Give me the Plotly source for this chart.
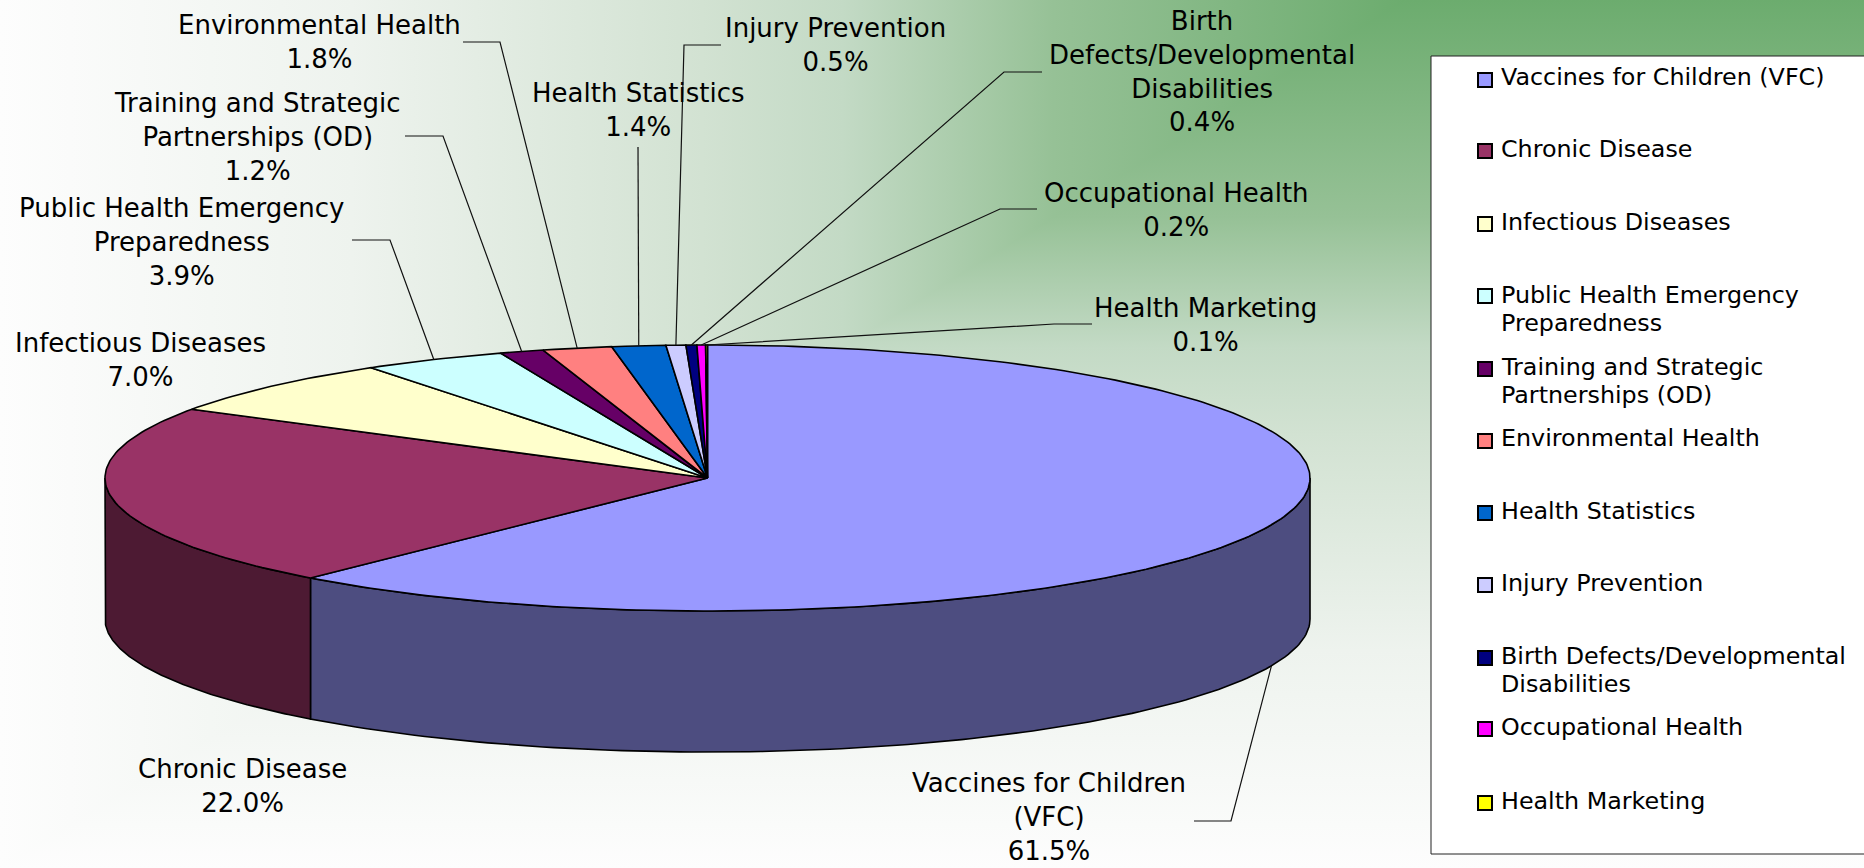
"""
CDC budget shares drawn as a tilted (3-D look) pie with a boxed legend
"""
import base64

import numpy as np
import plotly.graph_objects as go

WIDTH, HEIGHT = 1864, 868

# slice data, clockwise from 12 o'clock
categories = ['Vaccines for Children (VFC)', 'Chronic Disease', 'Infectious Diseases',
              'Public Health Emergency Preparedness', 'Training and Strategic Partnerships (OD)',
              'Environmental Health', 'Health Statistics', 'Injury Prevention',
              'Birth Defects/Developmental Disabilities', 'Occupational Health', 'Health Marketing']
# sizes as measured from the slice edges (the printed labels are rounded)
slice_values = [61.45, 22.2, 6.92, 3.85, 1.18, 1.86, 1.44, 0.53, 0.29, 0.23, 0.05]
percent_labels = ['61.5%', '22.0%', '7.0%', '3.9%', '1.2%', '1.8%', '1.4%', '0.5%', '0.4%', '0.2%', '0.1%']
top_colors = ['#9999FF', '#993366', '#FFFFCC', '#CCFFFF', '#660066', '#FF8080',
              '#0066CC', '#CCCCFF', '#000080', '#FF00FF', '#FFFF00']
side_colors = {0: '#4D4D80', 1: '#4D1A33'}

# wrapped text of the data labels
label_lines = [['Vaccines for Children', '(VFC)'], ['Chronic Disease'], ['Infectious Diseases'],
               ['Public Health Emergency', 'Preparedness'], ['Training and Strategic', 'Partnerships (OD)'],
               ['Environmental Health'], ['Health Statistics'], ['Injury Prevention'],
               ['Birth', 'Defects/Developmental', 'Disabilities'], ['Occupational Health'], ['Health Marketing']]
label_x = [1049, 242, 140, 182, 257, 319, 638, 835, 1202, 1176, 1205]
label_y = [817, 786, 360, 242, 137, 42, 110, 45, 71, 210, 325]

# leader lines: start at the label, go through the elbows, end on the slice rim
leader_paths = {
    0: [(1194, 821), (1231, 821)],
    3: [(352, 240), (390, 240)],
    4: [(405, 136), (443, 136)],
    5: [(463, 42), (500, 42)],
    6: [(638, 147)],
    7: [(721, 45), (684, 45)],
    8: [(1042, 72), (1004, 72)],
    9: [(1037, 209), (1000, 209)],
    10: [(1092, 324), (1054, 324)],
}

# legend wrap and placement
legend_lines = [['Vaccines for Children (VFC)'], ['Chronic Disease'], ['Infectious Diseases'],
                ['Public Health Emergency', 'Preparedness'], ['Training and Strategic', 'Partnerships (OD)'],
                ['Environmental Health'], ['Health Statistics'], ['Injury Prevention'],
                ['Birth Defects/Developmental', 'Disabilities'], ['Occupational Health'], ['Health Marketing']]
legend_swatch_y = [80, 151, 224, 296, 369, 441, 513, 585, 658, 729, 803]
legend_text_y = [77, 149, 222, 295, 367, 438, 511, 583, 656, 727, 801]

# pie geometry in pixels
CX, CY, RX, RY, DEPTH = 707.5, 478, 602.5, 133, 141
TEXT_FONT = 'DejaVu Sans'


def rim(theta):
    return CX + RX * np.sin(theta), CY - RY * np.cos(theta)


def background_uri():
    # corner gradient: dark corner near the top right, fading both left and down
    stops = [(0, '#6CAC6E'), (0.25, '#96C196'), (0.4, '#C3DAC5'), (0.5, '#D2E2D2'), (0.75, '#EEF3EE'), (1, '#FDFDFD')]
    stop_tags = ''.join(f'<stop offset="{o}" stop-color="{c}"/>' for o, c in stops)
    svg = (f'<svg xmlns="http://www.w3.org/2000/svg" width="{WIDTH}" height="{HEIGHT}">'
           f'<defs><linearGradient id="h" gradientUnits="userSpaceOnUse" x1="1405" y1="0" x2="0" y2="0">{stop_tags}</linearGradient>'
           f'<linearGradient id="v" gradientUnits="userSpaceOnUse" x1="0" y1="0" x2="0" y2="{HEIGHT}">{stop_tags}</linearGradient></defs>'
           f'<rect width="{WIDTH}" height="{HEIGHT}" fill="url(#v)"/>'
           f'<polygon points="0,0 1405,0 0,{HEIGHT}" fill="url(#h)"/></svg>')
    return 'data:image/svg+xml;base64,' + base64.b64encode(svg.encode()).decode()


fig = go.Figure()

shares = np.array(slice_values) / sum(slice_values)
edges = np.concatenate([[0], np.cumsum(shares)]) * 2 * np.pi

# outer wall: only the front half of the rim shows
for i in side_colors:
    start = max(edges[i], np.pi / 2)
    end = min(edges[i + 1], 3 * np.pi / 2)
    t = np.linspace(start, end, 120)
    x, y = rim(t)
    fig.add_trace(go.Scatter(
        x=np.concatenate([x, x[::-1], x[:1]]),
        y=np.concatenate([y, y[::-1] + DEPTH, y[:1]]),
        mode='lines', fill='toself', fillcolor=side_colors[i],
        line=dict(color='black', width=1.6), hoverinfo='skip', showlegend=False
    ))

# top face
for i, name in enumerate(categories):
    t = np.linspace(edges[i], edges[i + 1], max(3, int(shares[i] * 400)))
    x, y = rim(t)
    fig.add_trace(go.Scatter(
        x=np.concatenate([[CX], x, [CX]]),
        y=np.concatenate([[CY], y, [CY]]),
        mode='lines', fill='toself', fillcolor=top_colors[i],
        line=dict(color='black', width=1.6), name=name,
        hovertemplate=f'{name}<br>{percent_labels[i]}<extra></extra>', showlegend=False
    ))

# leader lines
for i, path in leader_paths.items():
    mid = (edges[i] + edges[i + 1]) / 2
    end_x, end_y = rim(mid)
    if np.cos(mid) < 0:  # front of the pie, line ends on the bottom rim
        end_y += DEPTH
    fig.add_trace(go.Scatter(
        x=[p[0] for p in path] + [end_x], y=[p[1] for p in path] + [end_y],
        mode='lines', line=dict(color='#111111', width=1.2), hoverinfo='skip', showlegend=False
    ))

# data labels
for i, lines in enumerate(label_lines):
    fig.add_annotation(
        x=label_x[i], y=label_y[i], text='<br>'.join(lines + [percent_labels[i]]),
        showarrow=False, xanchor='center', yanchor='middle', align='center',
        font=dict(family=TEXT_FONT, size=26, color='black')
    )

# legend box (a trace, layout shapes end up under the background image), swatches and text
fig.add_trace(go.Scatter(
    x=[1431, 1870, 1870, 1431, 1431], y=[56, 56, 854, 854, 56],
    mode='lines', fill='toself', fillcolor='white',
    line=dict(color='#222222', width=1), hoverinfo='skip', showlegend=False
))
fig.add_trace(go.Scatter(
    x=[1485] * len(categories), y=legend_swatch_y, mode='markers',
    marker=dict(symbol='square', size=14, color=top_colors, line=dict(color='black', width=2)),
    hoverinfo='skip', showlegend=False
))
for i, lines in enumerate(legend_lines):
    for j, line in enumerate(lines):
        fig.add_annotation(
            x=1499, y=legend_text_y[i] + j * 27.5, text=line, showarrow=False,
            xanchor='left', yanchor='middle', font=dict(family=TEXT_FONT, size=23.8, color='black')
        )

fig.add_layout_image(
    source=background_uri(), xref='x', yref='y', x=0, y=0, sizex=WIDTH, sizey=HEIGHT,
    sizing='stretch', layer='below', xanchor='left', yanchor='top'
)

fig.update_xaxes(range=[0, WIDTH], visible=False, fixedrange=True)
fig.update_yaxes(range=[HEIGHT, 0], visible=False, fixedrange=True)
fig.update_layout(
    width=WIDTH, height=HEIGHT, margin=dict(l=0, r=0, t=0, b=0),
    paper_bgcolor='white', plot_bgcolor='rgba(0,0,0,0)', showlegend=False
)

fig.write_html('out.html', config={'displayModeBar': False},
               post_script="document.body.style.margin='0';document.body.style.overflow='hidden';")
